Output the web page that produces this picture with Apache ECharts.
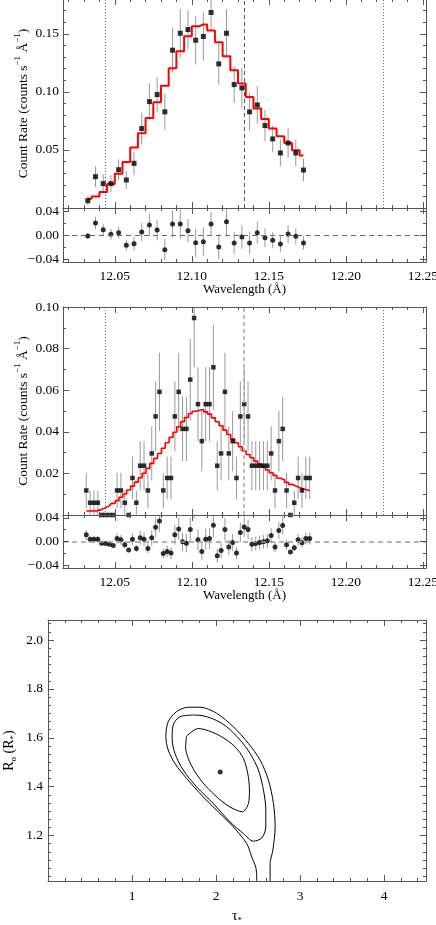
<!DOCTYPE html>
<html><head><meta charset="utf-8">
<script src="https://cdn.jsdelivr.net/npm/echarts@6/dist/echarts.min.js"></script>
<style>html,body{margin:0;padding:0;background:#fff}#c{width:436px;height:925px}</style>
</head><body><div id="c"></div>
<script>
// ---------------- DATA ----------------
// Panel 1 (coarse bins)
const wl1 = [12.0325,12.0375,12.0425,12.0475,12.0525,12.0575,12.0625,12.0675,12.0725,12.0775,12.0825,12.0875,12.0925,12.0975,12.1025,12.1075,12.1125,12.1175,12.1225,12.1275,12.1325,12.1375,12.1425,12.1475,12.1525,12.1575,12.1625,12.1675,12.1725];
const rate1 = [0.0063,0.0270,0.0210,0.0210,0.0330,0.0241,0.0385,0.0684,0.0916,0.0977,0.0828,0.1359,0.1505,0.1537,0.1445,0.1477,0.1684,0.1241,0.1505,0.1063,0.1034,0.0828,0.0888,0.0710,0.0595,0.0474,0.0560,0.0474,0.0327];
const err1 = [0.0040,0.0089,0.0080,0.0076,0.0089,0.0078,0.0100,0.0135,0.0158,0.0150,0.0155,0.0194,0.0210,0.0167,0.0208,0.0208,0.0160,0.0180,0.0207,0.0158,0.0172,0.0164,0.0158,0.0135,0.0115,0.0115,0.0128,0.0115,0.0095];
const model1 = [0.0080,0.0100,0.0138,0.0207,0.0296,0.0397,0.0520,0.0643,0.0776,0.0910,0.1052,0.1203,0.1350,0.1480,0.1566,0.1580,0.1528,0.1428,0.1307,0.1186,0.1072,0.0957,0.0856,0.0767,0.0684,0.0617,0.0560,0.0497,0.0453];
const resid1 = [-0.0017,0.0200,0.0089,0.0011,0.0039,-0.0172,-0.0144,0.0050,0.0167,0.0083,-0.0244,0.0183,0.0183,0.0072,-0.0128,-0.0111,0.0183,-0.0200,0.0222,-0.0133,-0.0033,-0.0133,0.0039,-0.0044,-0.0089,-0.0150,0.0017,-0.0022,-0.0133];
const residErr1 = [0.0045,0.0100,0.0092,0.0087,0.0100,0.0090,0.0115,0.0155,0.0180,0.0170,0.0178,0.0222,0.0240,0.0192,0.0238,0.0238,0.0200,0.0207,0.0238,0.0182,0.0198,0.0188,0.0182,0.0155,0.0132,0.0132,0.0147,0.0132,0.0109];

// Panel 2 (fine bins)
const wl2 = [12.0315,12.0340,12.0365,12.0390,12.0415,12.0440,12.0465,12.0490,12.0515,12.0540,12.0565,12.0590,12.0615,12.0640,12.0665,12.0690,12.0715,12.0740,12.0765,12.0790,12.0815,12.0840,12.0865,12.0890,12.0915,12.0940,12.0965,12.0990,12.1015,12.1040,12.1065,12.1090,12.1115,12.1140,12.1165,12.1190,12.1215,12.1240,12.1265,12.1290,12.1315,12.1340,12.1365,12.1390,12.1415,12.1440,12.1465,12.1490,12.1515,12.1540,12.1565,12.1590,12.1615,12.1640,12.1665,12.1690,12.1715,12.1740,12.1765];
const rate2 = [0.0118,0.0059,0.0059,0.0059,0,0,0,0,0.0118,0.0118, 0.0059,0,0.0178,0.0059,0.0237,0.0237,0.0118,0.0296,0.0474,0.0592, 0.0118,0.0178,0.0178,0.0474,0.0592,0.0414,0.0414,0.0651,0.0947,0.0533, 0.0355,0.0533,0.0533,0.0710,0.0237,0.0296,0.0592,0.0296,0.0355,0.0178, 0.0474,0.0533,0.0474,0.0237,0.0237,0.0237,0.0237,0.0237,0.0296,0.0118, 0.0355,0.0414,0.0118,0,0.0059,0.0178,0.0118,0.0178,0.0178];
const err2 = [0.0085,0.0058,0.0058,0.0058,0,0,0,0,0.0085,0.0085, 0.0058,0,0.0102,0.0058,0.0118,0.0118,0.0085,0.0130,0.0168,0.0188, 0.0085,0.0102,0.0102,0.0168,0.0188,0.0155,0.0155,0.0197,0.0237,0.0178, 0.0145,0.0178,0.0178,0.0205,0.0118,0.0130,0.0188,0.0130,0.0145,0.0102, 0.0168,0.0178,0.0168,0.0118,0.0118,0.0118,0.0118,0.0118,0.0130,0.0085, 0.0145,0.0155,0.0085,0,0.0058,0.0102,0.0085,0.0102,0.0102];
const model2 = [0.0019,0.0019,0.0020,0.0021,0.0027,0.0035,0.0044,0.0056,0.0069,0.0085, 0.0101,0.0120,0.0139,0.0158,0.0179,0.0201,0.0224,0.0248,0.0272,0.0296, 0.0321,0.0347,0.0373,0.0398,0.0424,0.0448,0.0469,0.0488,0.0499,0.0504, 0.0507,0.0496,0.0485,0.0467,0.0448,0.0429,0.0408,0.0387,0.0366,0.0347, 0.0328,0.0308,0.0291,0.0275,0.0259,0.0245,0.0230,0.0216,0.0203,0.0190, 0.0177,0.0168,0.0157,0.0147,0.0139,0.0131,0.0125,0.0120,0.0117];
const resid2 = [0.0113,0.0040,0.0040,0.0040,-0.0028,-0.0033,-0.0045,-0.0068,0.0051,0.0028, -0.0056,-0.0146,0.0040,-0.0118,0.0062,0.0040,-0.0118,0.0062,0.0243,0.0350, -0.0203,-0.0169,-0.0197,0.0113,0.0214,-0.0006,-0.0028,0.0203,0.0620,0.0028, -0.0169,0.0040,0.0051,0.0276,-0.0242,-0.0152,0.0203,-0.0095,-0.0017,-0.0197, 0.0152,0.0248,0.0203,-0.0045,-0.0034,-0.0017,-0.0006,0.0011,0.0101,-0.0095, 0.0186,0.0271,-0.0056,-0.0180,-0.0107,0.0028,-0.0022,0.0051,0.0051];

// reference wavelengths (blue edge, rest, red edge)
const refLines = [12.0435, 12.134, 12.2245];

// Panel 3: confidence contours (tau_*, R_0)
const contour1 = [[1.650,1.607],[1.789,1.638],[1.908,1.629],[2.068,1.604],[2.227,1.563],[2.326,1.516],[2.378,1.454],[2.398,1.386],[2.386,1.331],[2.314,1.297],[2.167,1.317],[2.028,1.352],[1.869,1.406],[1.749,1.461],[1.669,1.516],[1.638,1.563],[1.650,1.607]];
const contour2 = [[1.729,1.693],[1.570,1.686],[1.490,1.652],[1.478,1.597],[1.511,1.536],[1.610,1.468],[1.770,1.399],[1.968,1.331],[2.167,1.256],[2.326,1.208],[2.445,1.177],[2.545,1.190],[2.593,1.235],[2.593,1.304],[2.565,1.386],[2.505,1.468],[2.406,1.536],[2.286,1.591],[2.128,1.645],[1.968,1.677],[1.809,1.692],[1.729,1.693]];
const contour3 = [[2.485,1.010],[2.477,1.065],[2.426,1.112],[2.366,1.167],[2.207,1.235],[2.048,1.290],[1.848,1.358],[1.650,1.434],[1.511,1.495],[1.431,1.550],[1.403,1.604],[1.431,1.666],[1.530,1.707],[1.669,1.725],[1.809,1.725],[2.008,1.700],[2.207,1.645],[2.386,1.577],[2.525,1.509],[2.624,1.427],[2.684,1.331],[2.704,1.235],[2.677,1.140],[2.644,1.085],[2.644,1.010]];
const bestFit = [2.05, 1.46];

// tick labels
const wlTicks = [12.05, 12.10, 12.15, 12.20, 12.25];
const rate1Ticks = [0.05, 0.10, 0.15];
const rate2Ticks = [0.02, 0.04, 0.06, 0.08, 0.10];
const residTicks = [-0.04, 0.00, 0.04];
const tauTicks = [1, 2, 3, 4];
const r0Ticks = [1.2, 1.4, 1.6, 1.8, 2.0];

// ---------------- CHART ----------------
const FONT = '"Liberation Serif", "Times New Roman", serif';
const AXC = '#555';
const option = {animation:false, backgroundColor:'#fff', grid:[], xAxis:[], yAxis:[], series:[]};
[
 {left:63, top:-1, width:363, height:209},
 {left:63, top:208, width:363, height:54},
 {left:63, top:307, width:363, height:208},
 {left:63, top:515, width:363, height:53},
 {left:48, top:620, width:378, height:261}
].forEach(g => option.grid.push(Object.assign({containLabel:false, outerBoundsMode:'none'}, g)));

function minorVals(min, max, step, majors) {
  const out = [];
  const n0 = Math.ceil(min/step - 1e-6), n1 = Math.floor(max/step + 1e-6);
  for (let n = n0; n <= n1; n++) {
    const v = +(n*step).toFixed(6);
    if (v <= min + 1e-9 || v >= max - 1e-9) continue;
    if (majors.some(m => Math.abs(m - v) < step*0.01)) continue;
    out.push(v);
  }
  return out;
}
function addAxis(kind, gi, range, pos, vals, len, showLine, label, nameCfg) {
  const a = {type:'value', gridIndex:gi, position:pos, min:range[0], max:range[1],
    splitLine:{show:false}, minorTick:{show:false}, minorSplitLine:{show:false},
    axisLine:{show:showLine, onZero:false, lineStyle:{color:AXC, width:1}},
    axisTick:{show:true, inside:true, length:len, customValues:vals, lineStyle:{color:AXC, width:1}},
    axisLabel: label ? Object.assign({show:true, customValues:vals, fontFamily:FONT, fontSize:13.5, color:'#000'}, label) : {show:false},
    axisPointer:{show:false}, silent:true, z:5, nameMoveOverlap:false};
  if (nameCfg) Object.assign(a, nameCfg);
  option[kind].push(a);
  return option[kind].length - 1;
}
function frame(gi, xr, yr, xMaj, xMin, yMaj, yMin, o) {
  const xi = addAxis('xAxis', gi, xr, 'bottom', xMaj, 6, true, o.xFmt ? {formatter:o.xFmt, margin:o.xMargin} : null, o.xName);
  addAxis('xAxis', gi, xr, 'bottom', xMin, 3, false, null);
  addAxis('xAxis', gi, xr, 'top', xMaj, 6, true, null);
  addAxis('xAxis', gi, xr, 'top', xMin, 3, false, null);
  const yi = addAxis('yAxis', gi, yr, 'left', yMaj, 6, true, o.yFmt ? {formatter:o.yFmt, margin:o.yMargin} : null, o.yName);
  addAxis('yAxis', gi, yr, 'left', yMin, 3, false, null);
  addAxis('yAxis', gi, yr, 'right', yMaj, 6, true, null);
  addAxis('yAxis', gi, yr, 'right', yMin, 3, false, null);
  return {xi, yi};
}
const fmt2 = v => (v < -1e-9 ? '\u2212' : '') + Math.abs(v).toFixed(2);
const WLR = [12.0164, 12.252];
const RESR = [-0.045, 0.045];
const wlMinor = minorVals(WLR[0], WLR[1], 0.01, wlTicks);
const resMinor = minorVals(RESR[0], RESR[1], 0.02, residTicks);
const supRich = {sup:{fontFamily:FONT, fontSize:9, color:'#000', verticalAlign:'top', lineHeight:10}};
const subRich = {sub:{fontFamily:FONT, fontSize:9, color:'#000', verticalAlign:'bottom', lineHeight:10}};
const countName = {name:'Count Rate (counts s{sup|\u22121} \u00c5{sup|\u22121})', nameLocation:'middle', nameRotate:90, nameGap:30, nameMoveOverlap:false,
  nameTextStyle:{fontFamily:FONT, fontSize:13.5, color:'#000', lineHeight:20, rich:supRich}};
const wlName = {name:'Wavelength (\u00c5)', nameLocation:'middle', nameGap:21, nameMoveOverlap:false, nameTextStyle:{fontFamily:FONT, fontSize:13, color:'#000'}};

const A1 = frame(0, WLR, [0, 0.18], wlTicks, wlMinor, rate1Ticks, minorVals(0, 0.18, 0.01, rate1Ticks), {yFmt:fmt2, yMargin:4, yName:countName});
const R1 = frame(1, WLR, RESR, wlTicks, wlMinor, residTicks, resMinor, {xFmt:v=>v.toFixed(2), xMargin:7, xName:wlName, yFmt:fmt2, yMargin:4});
const A2 = frame(2, WLR, [0, 0.10], wlTicks, wlMinor, rate2Ticks, minorVals(0, 0.10, 0.01, rate2Ticks), {yFmt:fmt2, yMargin:4, yName:countName});
const R2 = frame(3, WLR, RESR, wlTicks, wlMinor, residTicks, resMinor, {xFmt:v=>v.toFixed(2), xMargin:7, xName:wlName, yFmt:fmt2, yMargin:4});
const C = frame(4, [0, 4.5], [1.014, 2.082], tauTicks, minorVals(0, 4.5, 0.2, tauTicks), r0Ticks, minorVals(1.014, 2.082, 1/30, r0Ticks),
  {xFmt:v=>v.toFixed(0), xMargin:8, yFmt:v=>v.toFixed(1), yMargin:5,
   xName:{name:'\u03c4{sub|*}', nameLocation:'middle', nameGap:26, nameMoveOverlap:false, nameTextStyle:{fontFamily:FONT, fontSize:14, color:'#000', lineHeight:18, rich:subRich}},
   yName:{name:'R{sub|o} (R{sub|*})', nameLocation:'middle', nameRotate:90, nameGap:30, nameMoveOverlap:false, nameTextStyle:{fontFamily:FONT, fontSize:14, color:'#000', lineHeight:18, rich:subRich}}});

function errBars(ax, xs, ys, es, color) {
  return {type:'custom', xAxisIndex:ax.xi, yAxisIndex:ax.yi, clip:true, silent:true, z:2,
    data: xs.map((x, i) => [x, ys[i], es[i]]), encode:{x:0, y:1},
    renderItem:(p, api) => {
      const x = api.value(0), y = api.value(1), e = api.value(2);
      if (!(e > 0)) return null;
      const a = api.coord([x, y - e]), b = api.coord([x, y + e]);
      return {type:'line', shape:{x1:a[0], y1:a[1], x2:b[0], y2:b[1]}, style:{stroke:color, lineWidth:1}};
    }};
}
function vLines(ax, dashColor, dashWidth) {
  return {type:'line', xAxisIndex:ax.xi, yAxisIndex:ax.yi, data:[], symbol:'none', silent:true,
    markLine:{silent:true, precision:6, symbol:['none','none'], label:{show:false}, animation:false,
      data: refLines.map((v, i) => ({xAxis:v, lineStyle: i === 1 ? {type:[4,3], color:dashColor, width:dashWidth} : {type:[1,2], color:'#444', width:0.8}}))}};
}
function zeroLine(ax, color, width) {
  return {type:'line', xAxisIndex:ax.xi, yAxisIndex:ax.yi, data:[], symbol:'none', silent:true,
    markLine:{silent:true, precision:6, symbol:['none','none'], label:{show:false}, animation:false,
      data:[{yAxis:0, lineStyle:{type:[5,4], color:color, width:width}}]}};
}
const pts = (xs, ys) => xs.map((x, i) => [x, ys[i]]);

option.series.push(
  vLines(A1, '#555', 1),
  errBars(A1, wl1, rate1, err1, '#999'),
  {type:'line', xAxisIndex:A1.xi, yAxisIndex:A1.yi, step:'middle', data:pts(wl1, model1), symbol:'none', silent:true, z:3, lineStyle:{color:'#f00', width:2}},
  {type:'scatter', xAxisIndex:A1.xi, yAxisIndex:A1.yi, data:pts(wl1, rate1), symbol:'rect', symbolSize:5, itemStyle:{color:'#000'}, silent:true, z:4},

  zeroLine(R1, '#666', 1),
  errBars(R1, wl1, resid1, residErr1, '#999'),
  {type:'scatter', xAxisIndex:R1.xi, yAxisIndex:R1.yi, data:pts(wl1, resid1), symbol:'circle', symbolSize:5, itemStyle:{color:'#000'}, silent:true, z:4},

  vLines(A2, '#aaa', 1.5),
  errBars(A2, wl2, rate2, err2, '#999'),
  {type:'line', xAxisIndex:A2.xi, yAxisIndex:A2.yi, step:'middle', data:pts(wl2, model2), symbol:'none', silent:true, z:3, lineStyle:{color:'#f00', width:1.6}},
  {type:'scatter', xAxisIndex:A2.xi, yAxisIndex:A2.yi, data:pts(wl2, rate2), symbol:'rect', symbolSize:4.5, itemStyle:{color:'#000'}, silent:true, z:4, clip:false},

  zeroLine(R2, '#999', 1.5),
  errBars(R2, wl2, resid2, err2, '#999'),
  {type:'scatter', xAxisIndex:R2.xi, yAxisIndex:R2.yi, data:pts(wl2, resid2), symbol:'circle', symbolSize:5, itemStyle:{color:'#000'}, silent:true, z:4, clip:true}
);
[contour1, contour2, contour3].forEach(c => option.series.push(
  {type:'line', xAxisIndex:C.xi, yAxisIndex:C.yi, data:c, symbol:'none', smooth:0.3, silent:true, clip:true, lineStyle:{color:'#000', width:1}}));
option.series.push({type:'scatter', xAxisIndex:C.xi, yAxisIndex:C.yi, data:[bestFit], symbol:'circle', symbolSize:5, itemStyle:{color:'#000'}, silent:true, z:4});

const chart = echarts.init(document.getElementById('c'), null, {renderer:'canvas'});
chart.setOption(option);
</script></body></html>
